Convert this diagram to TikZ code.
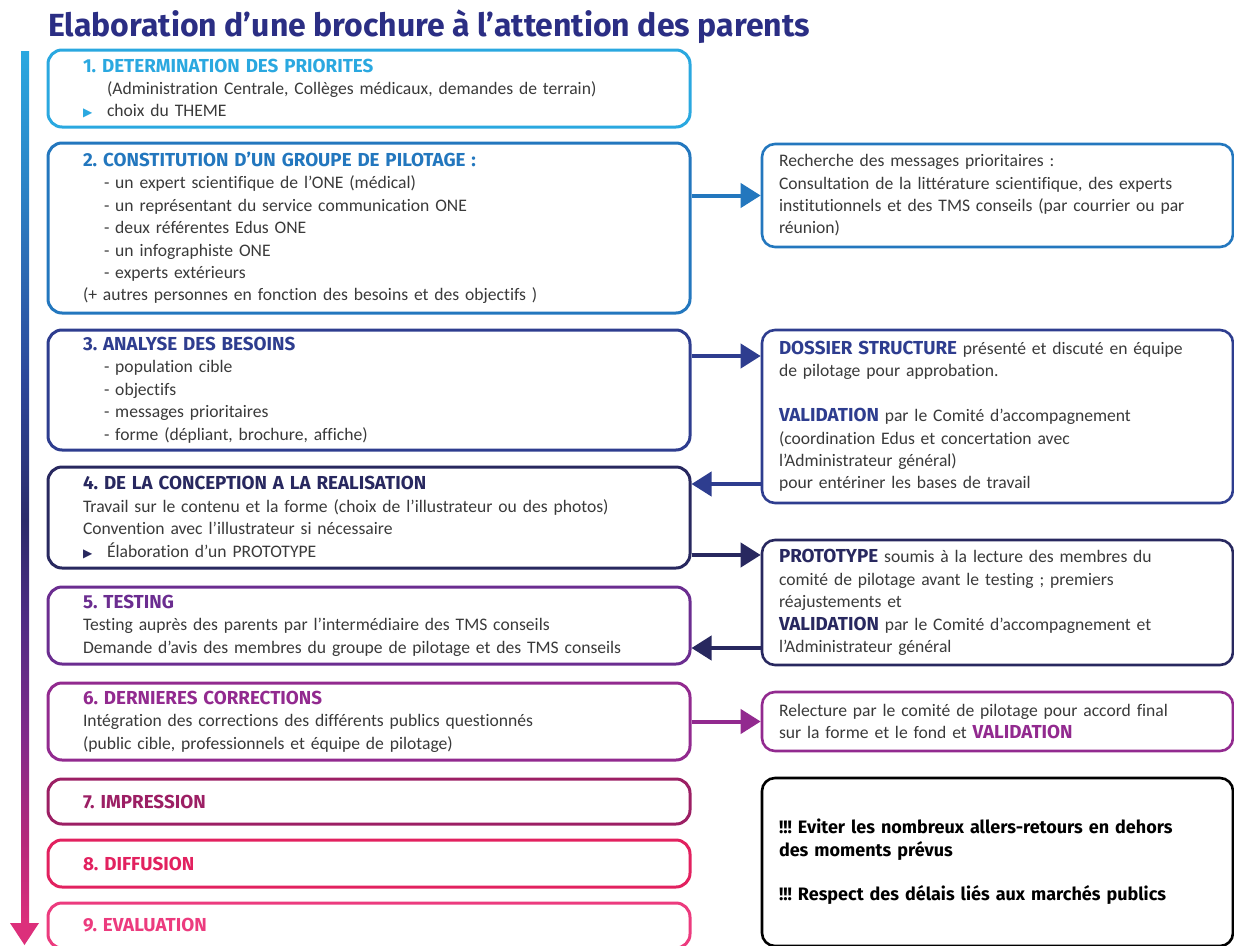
\documentclass[tikz,border=0pt]{standalone}
\usepackage{fontspec}
\setmainfont{Carlito}[Ligatures=NoCommon]
\newfontfamily\headfont{Fira Sans}
\newfontfamily\symfont{DejaVu Sans}
\usetikzlibrary{arrows.meta,positioning}
\definecolor{oneSky}{HTML}{2AA8E0}
\definecolor{oneBlue}{HTML}{2377BE}
\definecolor{oneIndigo}{HTML}{2E3D8F}
\definecolor{oneNavy}{HTML}{28285F}
\definecolor{onePurple}{HTML}{6B2D90}
\definecolor{oneViolet}{HTML}{922A8F}
\definecolor{onePlum}{HTML}{9C1F64}
\definecolor{oneRed}{HTML}{E2215F}
\definecolor{onePink}{HTML}{EC3B7E}
\definecolor{oneTitle}{HTML}{2B2E84}
\definecolor{oneText}{HTML}{3A3A3A}
\definecolor{flowA}{HTML}{2A7FC3}
\definecolor{flowB}{HTML}{2D479A}
\definecolor{flowC}{HTML}{2B2C6B}
\definecolor{flowD}{HTML}{4F2C84}
\definecolor{flowE}{HTML}{82298A}
\definecolor{flowF}{HTML}{B5287A}
\definecolor{flowG}{HTML}{DC2F7B}
% the path box maps onto 25bp--75bp of the shading
\pgfdeclareverticalshading{flowbar}{100bp}{color(0bp)=(flowG); color(25bp)=(flowG); color(29.75bp)=(flowF); color(35.5bp)=(flowE); color(42.35bp)=(flowD); color(48.1bp)=(flowC); color(56.15bp)=(flowB); color(66.45bp)=(flowA); color(75bp)=(oneSky); color(100bp)=(oneSky)}
\newcommand\bodyfont{\frenchspacing\fontsize{17.6}{22.4}\selectfont}
\newcommand\stephead[2]{{\headfont\bfseries\fontsize{18.8}{22.4}\selectfont\color{#1}#2}}
\newcommand\keyword[2]{{\headfont\bfseries\fontsize{18.8}{22.4}\selectfont\color{#1}#2}}
\newcommand\pointer[1]{\makebox[24pt][l]{\textcolor{#1}{\symfont\fontsize{12}{12}\selectfont ▶}}}
\newcommand\indentline{\hspace*{21pt}}
\tikzset{
    stage/.style={draw=#1, line width=3pt, rounded corners=14pt, fill=white, text=oneText, align=left, text width=572pt, inner xsep=35pt, inner ysep=0pt, font=\bodyfont},
    note/.style={draw=#1, line width=2.6pt, rounded corners=13pt, fill=white, text=oneText, align=left, text width=437pt, inner xsep=17pt, inner ysep=0pt, font=\bodyfont},
    link/.style={draw=#1, line width=4pt, -{Triangle[length=20pt,width=24pt]}}
}
\begin{document}
\begin{tikzpicture}[x=1pt,y=-1pt]
\useasboundingbox (0,0) rectangle (1234,945);
\node[anchor=base west, text=oneTitle, font=\headfont\bfseries\fontsize{32}{34}\selectfont, inner sep=0pt] (title) at (48,36) {Elaboration d’une brochure à l’attention des parents};
% timeline arrow
\shade[shading=flowbar] (21,51) rectangle (29,923);
\fill[flowG] (10,923) -- (39,923) -- (24.5,945) -- cycle;
% steps
\node[stage=oneSky, minimum height=77pt] (s1) at (369,88.5) {\stephead{oneSky}{1. DETERMINATION DES PRIORITES}\\
\hspace*{24pt}(Administration Centrale, Collèges médicaux, demandes de terrain)\\
\pointer{oneSky}choix du THEME};
\node[stage=oneBlue, minimum height=170pt] (s2) at (369,228) {\stephead{oneBlue}{2. CONSTITUTION D’UN GROUPE DE PILOTAGE :}\\
\indentline- un expert scientifique de l’ONE (médical)\\
\indentline- un représentant du service communication ONE\\
\indentline- deux référentes Edus ONE\\
\indentline- un infographiste ONE\\
\indentline- experts extérieurs\\
(+ autres personnes en fonction des besoins et des objectifs )};
\node[stage=oneIndigo, minimum height=120pt] (s3) at (369,390) {\stephead{oneIndigo}{3. ANALYSE DES BESOINS}\\
\indentline- population cible\\
\indentline- objectifs\\
\indentline- messages prioritaires\\
\indentline- forme (dépliant, brochure, affiche)};
\node[stage=oneNavy, minimum height=101pt] (s4) at (369,517.5) {\stephead{oneNavy}{4. DE LA CONCEPTION A LA REALISATION}\\
Travail sur le contenu et la forme (choix de l’illustrateur ou des photos)\\
Convention avec l’illustrateur si nécessaire\\
\pointer{oneNavy}Élaboration d’un PROTOTYPE};
\node[stage=onePurple, minimum height=77pt] (s5) at (369,625.5) {\stephead{onePurple}{5. TESTING}\\
Testing auprès des parents par l’intermédiaire des TMS conseils\\
Demande d’avis des membres du groupe de pilotage et des TMS conseils};
\node[stage=oneViolet, minimum height=77pt] (s6) at (369,721.5) {\stephead{oneViolet}{6. DERNIERES CORRECTIONS}\\
Intégration des corrections des différents publics questionnés\\
(public cible, professionnels et équipe de pilotage)};
\node[stage=onePlum, minimum height=45pt] (s7) at (369,801.5) {\stephead{onePlum}{7. IMPRESSION}};
\node[stage=oneRed, minimum height=47pt] (s8) at (369,863.5) {\stephead{oneRed}{8. DIFFUSION}};
\node[stage=onePink, minimum height=45pt] (s9) at (369,925.5) {\stephead{onePink}{9. EVALUATION}};
% side notes
\node[note=oneBlue, minimum height=103pt] (r1) at (997.5,195.5) {Recherche des messages prioritaires :\\
Consultation de la littérature scientifique, des experts\\
institutionnels et des TMS conseils (par courrier ou par\\
réunion)};
\node[note=oneIndigo, minimum height=173pt] (r2) at (997.5,416.5) {\keyword{oneIndigo}{DOSSIER STRUCTURE} présenté et discuté en équipe\\
de pilotage pour approbation.\\[22.4pt]
\keyword{oneIndigo}{VALIDATION} par le Comité d’accompagnement\\
(coordination Edus et concertation avec\\
l’Administrateur général)\\
pour entériner les bases de travail};
\node[note=oneNavy, minimum height=125pt] (r3) at (997.5,602.5) {\keyword{oneNavy}{PROTOTYPE} soumis à la lecture des membres du\\
comité de pilotage avant le testing ; premiers\\
réajustements et\\
\keyword{oneNavy}{VALIDATION} par le Comité d’accompagnement et\\
l’Administrateur général};
\node[note=oneViolet, minimum height=59pt] (r4) at (997.5,721.5) {Relecture par le comité de pilotage pour accord final\\
sur la forme et le fond et \keyword{oneViolet}{VALIDATION}};
\node[note=black, minimum height=168pt, text=black, font=\frenchspacing\headfont\bfseries\fontsize{18}{22.4}\selectfont] (r5) at (997.5,862) {!!! Eviter les nombreux allers-retours en dehors\\
des moments prévus\\[22.4pt]
!!! Respect des délais liés aux marchés publics};
% connectors
\draw[link=oneBlue] (s2.east |- r1.west) -- (r1.west);
\draw[link=oneIndigo] (s3.east |- 0,356) -- (r2.west |- 0,356);
\draw[link=oneIndigo] (r2.west |- 0,484) -- (s4.east |- 0,484);
\draw[link=oneNavy] (s4.east |- 0,555) -- (r3.west |- 0,555);
\draw[link=oneNavy] (r3.west |- 0,648) -- (s5.east |- 0,648);
\draw[link=oneViolet] (s6.east) -- (r4.west);
\end{tikzpicture}
\end{document}
